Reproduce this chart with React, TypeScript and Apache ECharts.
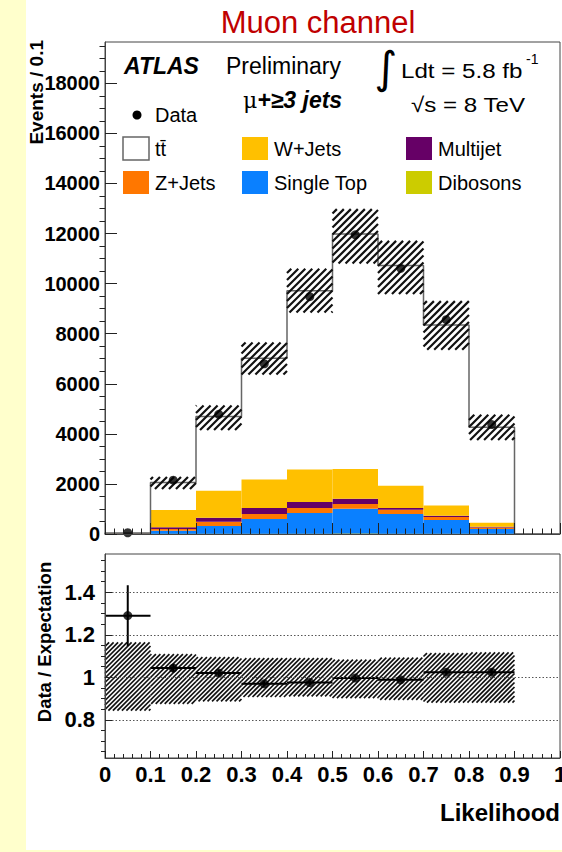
import React, { useEffect, useRef } from "react";
import * as echarts from "echarts";

// Bin edges of the likelihood distribution
const binLo = [0, 0.1, 0.2, 0.3, 0.4, 0.5, 0.6, 0.7, 0.8, 0.9];
const binHi = [0.1, 0.2, 0.3, 0.4, 0.5, 0.6, 0.7, 0.8, 0.9, 1.0];

// Stacked MC expectations (events / 0.1)
const ttbar = [7, 1097, 2960, 4840, 7142, 9380, 8792, 7210, 3815, 0];
const wJets = [15, 690, 1078, 1140, 1300, 1190, 890, 410, 160, 0];
const multijet = [4, 70, 160, 240, 240, 210, 70, 50, 30, 0];
const zJets = [4, 70, 172, 200, 200, 190, 170, 120, 60, 0];
const singleTop = [8, 117, 310, 590, 825, 995, 785, 550, 195, 0];
const dibosons = [1, 8, 10, 10, 13, 15, 13, 10, 5, 0];

// Data (first nine bins)
const dataX = [0.05, 0.15, 0.25, 0.35, 0.45, 0.55, 0.65, 0.75, 0.85];
const dataEvents = [50, 2150, 4780, 6800, 9480, 11950, 10610, 8560, 4370];

// Ratio panel
const ratio = [1.29, 1.043, 1.02, 0.969, 0.975, 0.996, 0.988, 1.024, 1.024];
const ratioErr = [0.143, 0.02, 0.014, 0.012, 0.01, 0.009, 0.009, 0.011, 0.015];
const bandHi = [1.164, 1.109, 1.095, 1.09, 1.09, 1.083, 1.092, 1.114, 1.117];
const bandLo = [0.843, 0.875, 0.886, 0.907, 0.91, 0.902, 0.894, 0.881, 0.881];

// Tick values
const topMajor = [0, 2000, 4000, 6000, 8000, 10000, 12000, 14000, 16000, 18000];
const topMinor: number[] = [];
for (let v = 500; v < 19650; v += 500) if (v % 2000 !== 0) topMinor.push(v);
const ratioMajor = [0.8, 1, 1.2, 1.4];
const ratioMinor = [0.65, 0.7, 0.75, 0.85, 0.9, 0.95, 1.05, 1.1, 1.15, 1.25, 1.3, 1.35, 1.45, 1.5, 1.55];

const FONT = "'Liberation Sans', Arial, Helvetica, sans-serif";

const colors = {
  wJets: "#ffc000",
  multijet: "#660066",
  zJets: "#ff7700",
  singleTop: "#0a80ff",
  dibosons: "#cccc00",
};

function stackSeries(name: string, lower: number[], upper: number[], color: string) {
  const data = binLo.map((lo, i) => [lo, binHi[i], lower[i], upper[i]]);
  return {
    type: "custom",
    name,
    xAxisIndex: 0,
    yAxisIndex: 0,
    z: 2,
    clip: true,
    encode: { x: [0, 1], y: [2, 3] },
    data,
    renderItem: (params: any, api: any) => {
      const a = api.coord([api.value(0), api.value(3)]);
      const b = api.coord([api.value(1), api.value(2)]);
      return {
        type: "rect",
        shape: { x: a[0], y: a[1], width: b[0] - a[0], height: b[1] - a[1] },
        style: { fill: color },
      };
    },
  };
}

function hatchRender(spacing: number, lw: number) {
  return (params: any, api: any) => {
    const a = api.coord([api.value(0), api.value(3)]);
    const b = api.coord([api.value(1), api.value(2)]);
    const x0 = a[0], x1 = b[0], y0 = a[1], y1 = b[1];
    const children: any[] = [];
    const cStart = Math.ceil((x0 + y0) / spacing) * spacing;
    for (let c = cStart; c <= x1 + y1; c += spacing) {
      const xa = Math.max(x0, c - y1);
      const xb = Math.min(x1, c - y0);
      if (xb > xa + 0.5) {
        children.push({
          type: "line",
          shape: { x1: xa, y1: c - xa, x2: xb, y2: c - xb },
          style: { stroke: "#111", lineWidth: lw },
        });
      }
    }
    return { type: "group", children };
  };
}

export default function App() {
  const ref = useRef<HTMLDivElement>(null);

  useEffect(() => {
    if (!ref.current) return;
    const chart = echarts.init(ref.current, undefined, { renderer: "svg" });

    // cumulative stacks (bottom to top)
    const c0 = binLo.map(() => 0);
    const c1 = dibosons.map((v, i) => c0[i] + v);
    const c2 = singleTop.map((v, i) => c1[i] + v);
    const c3 = zJets.map((v, i) => c2[i] + v);
    const c4 = multijet.map((v, i) => c3[i] + v);
    const c5 = wJets.map((v, i) => c4[i] + v);
    const total = ttbar.map((v, i) => c5[i] + v);

    const stepPts: number[][] = [[0, 0]];
    binLo.forEach((lo, i) => {
      stepPts.push([lo, total[i]]);
      stepPts.push([binHi[i], total[i]]);
    });
    stepPts.push([1, 0]);

    const topBand = dataX.map((_, i) => [binLo[i], binHi[i], total[i] * bandLo[i], total[i] * bandHi[i]]);
    const ratioBand = dataX.map((_, i) => [binLo[i], binHi[i], bandLo[i], bandHi[i]]);
    const ratioBars = dataX.map((x, i) => [binLo[i], binHi[i], ratio[i], ratio[i] - ratioErr[i], ratio[i] + ratioErr[i]]);

    const axisColor = "#444";
    const legendRow = (x: number, y: number, label: string, fill: string, stroke?: string) => [
      {
        type: "rect",
        shape: { x, y, width: 26, height: 23 },
        style: { fill, stroke: stroke || fill, lineWidth: stroke ? 1.5 : 0 },
      },
      {
        type: "text",
        x: x + 32,
        y: y + 12,
        style: { text: label, fontSize: 20, fontFamily: FONT, fill: "#000", verticalAlign: "middle" },
      },
    ];

    const option: any = {
      animation: false,
      backgroundColor: "transparent",
      grid: [
        { left: 105, top: 42, width: 455, height: 492, show: true, borderColor: axisColor, borderWidth: 1, backgroundColor: "transparent", outerBoundsMode: "none", containLabel: false },
        { left: 105, top: 554, width: 455, height: 204, show: true, borderColor: axisColor, borderWidth: 1, backgroundColor: "transparent", outerBoundsMode: "none", containLabel: false },
      ],
      xAxis: [
        {
          type: "value", gridIndex: 0, min: 0, max: 1, interval: 0.1, z: 10,
          axisLine: { show: true, onZero: false, lineStyle: { color: axisColor, width: 1 } },
          axisTick: { show: true, inside: true, length: 11, lineStyle: { color: "#222", width: 1 } },
          minorTick: { show: true, splitNumber: 5, length: 5.5, lineStyle: { color: "#222", width: 1 } },
          axisLabel: { show: false },
          splitLine: { show: false },
        },
        {
          type: "value", gridIndex: 1, min: 0, max: 1, interval: 0.1, z: 10,
          axisLine: { show: true, onZero: false, lineStyle: { color: axisColor, width: 1 } },
          axisTick: { show: true, inside: true, length: 7, lineStyle: { color: "#222", width: 1 } },
          minorTick: { show: true, splitNumber: 5, length: 4, lineStyle: { color: "#222", width: 1 } },
          axisLabel: {
            show: true, margin: 5, fontSize: 22, fontWeight: "bold", fontFamily: FONT, color: "#000",
            hideOverlap: false,
            formatter: (v: number) => (Math.round(v * 10) / 10).toString(),
          },
          splitLine: { show: false },
        },
      ],
      yAxis: [
        {
          type: "value", gridIndex: 0, min: 0, max: 19650, z: 10,
          axisLine: { show: true, onZero: false, lineStyle: { color: axisColor, width: 1 } },
          axisTick: { show: true, inside: true, length: 12, customValues: topMajor, lineStyle: { color: "#222" } },
          axisLabel: {
            show: true, customValues: topMajor, margin: 5, fontSize: 20, fontWeight: "bold", fontFamily: FONT, color: "#000",
            formatter: (v: number) => String(Math.round(v)),
          },
          splitLine: { show: false },
        },
        {
          type: "value", gridIndex: 0, min: 0, max: 19650, z: 10,
          axisLine: { show: false },
          axisTick: { show: true, inside: true, length: 5.5, customValues: topMinor, lineStyle: { color: "#222" } },
          axisLabel: { show: false },
          splitLine: { show: false },
        },
        {
          type: "value", gridIndex: 1, min: 0.62, max: 1.58, z: 10,
          axisLine: { show: true, onZero: false, lineStyle: { color: axisColor, width: 1 } },
          axisTick: { show: true, inside: true, length: 7, customValues: ratioMajor, lineStyle: { color: "#222" } },
          axisLabel: {
            show: true, customValues: ratioMajor, margin: 10, fontSize: 22, fontWeight: "bold", fontFamily: FONT, color: "#000",
            formatter: (v: number) => String(v),
          },
          splitLine: { show: false },
        },
        {
          type: "value", gridIndex: 1, min: 0.62, max: 1.58, z: 10,
          axisLine: { show: false },
          axisTick: { show: true, inside: true, length: 4, customValues: ratioMinor, lineStyle: { color: "#222" } },
          axisLabel: { show: false },
          splitLine: { show: false },
        },
      ],
      series: [
        stackSeries("Dibosons", c0, c1, colors.dibosons),
        stackSeries("Single Top", c1, c2, colors.singleTop),
        stackSeries("Z+Jets", c2, c3, colors.zJets),
        stackSeries("Multijet", c3, c4, colors.multijet),
        stackSeries("W+Jets", c4, c5, colors.wJets),
        {
          type: "line",
          name: "ttbar",
          xAxisIndex: 0,
          yAxisIndex: 0,
          z: 3,
          data: stepPts,
          symbol: "none",
          lineStyle: { color: "#666", width: 1.5 },
        },
        {
          type: "custom",
          name: "Uncertainty",
          xAxisIndex: 0,
          yAxisIndex: 0,
          z: 4,
          encode: { x: [0, 1], y: [2, 3] },
          data: topBand,
          renderItem: hatchRender(7, 2.2),
        },
        {
          type: "scatter",
          name: "Data",
          xAxisIndex: 0,
          yAxisIndex: 0,
          z: 5,
          symbol: "circle",
          symbolSize: 9,
          itemStyle: { color: "#000" },
          data: dataX.map((x, i) => [x, dataEvents[i]]),
        },
        {
          type: "custom",
          name: "Ratio band",
          xAxisIndex: 1,
          yAxisIndex: 2,
          z: 3,
          encode: { x: [0, 1], y: [2, 3] },
          data: ratioBand,
          renderItem: hatchRender(4.5, 1.7),
        },
        {
          type: "custom",
          name: "Ratio errors",
          xAxisIndex: 1,
          yAxisIndex: 2,
          z: 4,
          encode: { x: [0, 1], y: [2, 3, 4] },
          data: ratioBars,
          renderItem: (params: any, api: any) => {
            const xlo = api.value(0), xhi = api.value(1), r = api.value(2);
            const pL = api.coord([xlo, r]);
            const pR = api.coord([xhi, r]);
            const pT = api.coord([(xlo + xhi) / 2, api.value(4)]);
            const pB = api.coord([(xlo + xhi) / 2, api.value(3)]);
            return {
              type: "group",
              children: [
                { type: "line", shape: { x1: pL[0], y1: pL[1], x2: pR[0], y2: pR[1] }, style: { stroke: "#000", lineWidth: 2 } },
                { type: "line", shape: { x1: pT[0], y1: pT[1], x2: pB[0], y2: pB[1] }, style: { stroke: "#000", lineWidth: 2 } },
              ],
            };
          },
          markLine: {
            silent: true,
            symbol: "none",
            label: { show: false },
            lineStyle: { color: "#555", type: [1.5, 2], width: 1 },
            data: ratioMajor.map((v) => ({ yAxis: v })),
          },
        },
        {
          type: "scatter",
          name: "Ratio",
          xAxisIndex: 1,
          yAxisIndex: 2,
          z: 5,
          symbol: "circle",
          symbolSize: 9,
          itemStyle: { color: "#000" },
          data: dataX.map((x, i) => [x, ratio[i]]),
        },
      ],
      graphic: [
        {
          type: "text", x: 318, y: 22,
          style: { text: "Muon channel", fontSize: 31, fontFamily: FONT, fill: "#c00000", align: "center", verticalAlign: "middle" },
        },
        {
          type: "text", x: 124, y: 66,
          style: { text: "ATLAS", fontSize: 23, fontWeight: "bold", fontStyle: "italic", fontFamily: FONT, fill: "#000", verticalAlign: "middle" },
        },
        {
          type: "text", x: 226, y: 66,
          style: { text: "Preliminary", fontSize: 23, fontFamily: FONT, fill: "#000", verticalAlign: "middle" },
        },
        {
          type: "text", x: 243, y: 100,
          style: {
            text: "{a|μ}{b|+≥3 jets}",
            verticalAlign: "middle",
            rich: {
              a: { fontSize: 22, fontFamily: "'DejaVu Serif', serif", fill: "#000" },
              b: { fontSize: 23, fontWeight: "bold", fontStyle: "italic", fontFamily: FONT, fill: "#000" },
            },
          },
        },
        {
          type: "text", x: 386, y: 67,
          style: { text: "∫", fontSize: 44, fontFamily: "'DejaVu Sans', sans-serif", fill: "#000", align: "center", verticalAlign: "middle" },
        },
        {
          type: "text", x: 401, y: 71, scaleX: 1.15,
          style: { text: "Ldt = 5.8 fb", fontSize: 21, fontFamily: FONT, fill: "#000", verticalAlign: "middle" },
        },
        {
          type: "text", x: 526, y: 59,
          style: { text: "-1", fontSize: 14, fontFamily: FONT, fill: "#000", verticalAlign: "middle" },
        },
        {
          type: "text", x: 411, y: 105, scaleX: 1.15,
          style: { text: "√s = 8 TeV", fontSize: 21, fontFamily: FONT, fill: "#000", verticalAlign: "middle" },
        },
        { type: "circle", shape: { cx: 137, cy: 115, r: 4.5 }, style: { fill: "#000" } },
        {
          type: "text", x: 155, y: 115,
          style: { text: "Data", fontSize: 20, fontFamily: FONT, fill: "#000", verticalAlign: "middle" },
        },
        ...legendRow(123, 137, "tt\u0304", "#fff", "#666"),
        ...legendRow(123, 171, "Z+Jets", colors.zJets),
        ...legendRow(242, 137, "W+Jets", colors.wJets),
        ...legendRow(242, 171, "Single Top", colors.singleTop),
        ...legendRow(406, 137, "Multijet", colors.multijet),
        ...legendRow(406, 171, "Dibosons", colors.dibosons),
        {
          type: "text", x: 36, y: 40, rotation: Math.PI / 2,
          style: { text: "Events / 0.1", fontSize: 19, fontWeight: "bold", fontFamily: FONT, fill: "#000", align: "right", verticalAlign: "middle" },
        },
        {
          type: "text", x: 44, y: 642, rotation: Math.PI / 2,
          style: { text: "Data / Expectation", fontSize: 18.5, fontWeight: "bold", fontFamily: FONT, fill: "#000", align: "center", verticalAlign: "middle" },
        },
        {
          type: "text", x: 560, y: 812,
          style: { text: "Likelihood", fontSize: 24, fontWeight: "bold", fontFamily: FONT, fill: "#000", align: "right", verticalAlign: "middle" },
        },
      ],
    };

    chart.setOption(option);
    return () => chart.dispose();
  }, []);

  return (
    <div style={{ position: "absolute", left: 0, top: 0, width: 562, height: 852, background: "#ffffcc", overflow: "hidden" }}>
      <div style={{ position: "absolute", left: 26, top: 0, width: 536, height: 850, background: "#ffffff" }} />
      <div ref={ref} style={{ position: "absolute", left: 0, top: 0, width: 562, height: 852 }} />
    </div>
  );
}
